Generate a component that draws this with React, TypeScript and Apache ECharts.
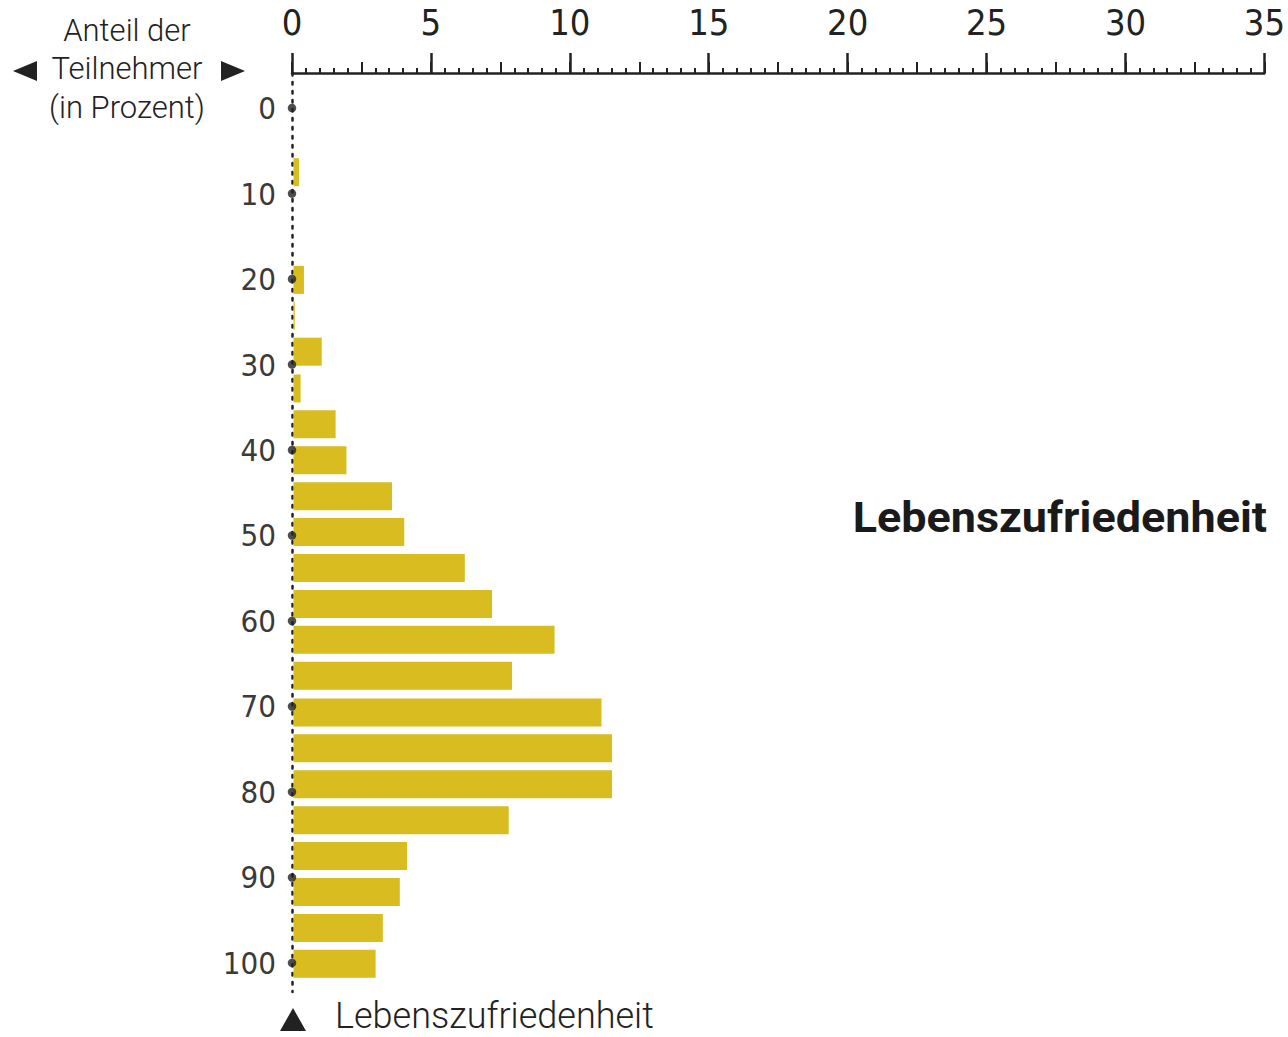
import React, { useEffect, useRef } from "react";
import * as echarts from "echarts";

// Lebenszufriedenheit (position on 0–100 scale) of each bar
const satisfaction = [7.5, 11.7, 15.9, 20.1, 24.3, 28.5, 32.8, 37.0, 41.2, 45.4, 49.6, 53.8, 58.0, 62.2, 66.4, 70.7, 74.9, 79.1, 83.3, 87.5, 91.7, 95.9, 100.1];
// Anteil der Teilnehmer (in Prozent)
const share = [0.25, 0, 0.05, 0.43, 0.1, 1.07, 0.31, 1.57, 1.96, 3.6, 4.04, 6.22, 7.2, 9.45, 7.92, 11.14, 11.52, 11.52, 7.8, 4.14, 3.88, 3.27, 3.01];

const xTickLabels = [0, 5, 10, 15, 20, 25, 30, 35];
const yTickLabels = [0, 10, 20, 30, 40, 50, 60, 70, 80, 90, 100];

const headerLines = ["Anteil der", "Teilnehmer", "(in Prozent)"];
const axisTitle = "Lebenszufriedenheit";

const INK = "#222222";
const BAR = "#d9bc1f";
const NUM_FONT = "'Liberation Sans Narrow', 'DejaVu Sans Condensed', 'DejaVu Sans', sans-serif";
const TEXT_FONT = "Roboto, 'Noto Sans', sans-serif";

export default function App() {
  const ref = useRef<HTMLDivElement>(null);

  useEffect(() => {
    if (!ref.current) return;
    const chart = echarts.init(ref.current, undefined, { renderer: "svg" });

    const barData = share.map((v, i) => [v, satisfaction[i]]);
    const dotData = yTickLabels.map((v) => [0, v]);

    const gridTop = 73;
    const gridBottom = 45;
    const gridBottomY = 1037 - gridBottom;

    const option: any = {
      animation: false,
      backgroundColor: "#ffffff",
      grid: { left: 292, right: 18, top: gridTop, bottom: gridBottom, containLabel: false },
      xAxis: [
        {
          type: "value",
          position: "top",
          min: 0,
          max: 35,
          interval: 5,
          axisLine: { show: true, onZero: false, lineStyle: { color: INK, width: 2.5 } },
          axisTick: { show: true, length: 20, lineStyle: { color: INK, width: 2.5 } },
          minorTick: { show: true, splitNumber: 10, length: 5, lineStyle: { color: INK, width: 2 } },
          splitLine: { show: false },
          minorSplitLine: { show: false },
          axisLabel: {
            show: true,
            customValues: xTickLabels,
            margin: 33,
            color: INK,
            fontFamily: NUM_FONT,
            fontSize: 36,
          },
        },
        {
          type: "value",
          position: "bottom",
          offset: gridTop - gridBottomY,
          min: 0,
          max: 35,
          interval: 2.5,
          axisLine: { show: false, onZero: false },
          axisTick: { show: true, inside: true, length: 11, lineStyle: { color: INK, width: 2 } },
          splitLine: { show: false },
          axisLabel: { show: false },
        },
      ],
      yAxis: {
        type: "value",
        inverse: true,
        min: -4.1,
        max: 103.4,
        axisLine: { show: true, onZero: false, lineStyle: { color: INK, width: 2.5, type: [2.5, 6.5] } },
        axisTick: { show: false },
        splitLine: { show: false },
        axisLabel: {
          show: true,
          customValues: yTickLabels,
          margin: 16,
          color: "#3a3a3a",
          fontFamily: NUM_FONT,
          fontSize: 31,
        },
      },
      series: [
        {
          type: "custom",
          xAxisIndex: 0,
          yAxisIndex: 0,
          data: barData,
          encode: { x: 0, y: 1 },
          clip: false,
          renderItem: (params: any, api: any) => {
            const v = api.value(0);
            const s = api.value(1);
            const p0 = api.coord([0, s]);
            const p1 = api.coord([v, s]);
            const h = 28;
            return {
              type: "rect",
              shape: { x: p0[0] + 1.5, y: p0[1] - h / 2, width: Math.max(0, p1[0] - p0[0] - 1.5), height: h },
              style: { fill: BAR },
            };
          },
        },
        {
          type: "scatter",
          xAxisIndex: 0,
          yAxisIndex: 0,
          data: dotData,
          symbol: "circle",
          symbolSize: 8.5,
          clip: false,
          itemStyle: { color: INK },
          silent: true,
        },
      ],
      graphic: [
        ...headerLines.map((t, i) => ({
          type: "text",
          x: 127,
          y: 30 + i * 38.5,
          scaleX: 1.0,
          style: {
            text: t,
            x: 0,
            y: 0,
            textAlign: "center",
            textVerticalAlign: "middle",
            fill: INK,
            font: `300 31px ${TEXT_FONT}`,
          },
        })),
        {
          type: "polygon",
          shape: { points: [[13, 71], [37, 61], [37, 81]] },
          style: { fill: INK },
        },
        {
          type: "polygon",
          shape: { points: [[221, 61], [245, 71], [221, 81]] },
          style: { fill: INK },
        },
        {
          type: "polygon",
          shape: { points: [[280, 1031], [293, 1008], [306, 1031]] },
          style: { fill: INK },
        },
        {
          type: "text",
          x: 335,
          y: 1016,
          scaleX: 1.0,
          style: {
            text: axisTitle,
            x: 0,
            y: 0,
            textAlign: "left",
            textVerticalAlign: "middle",
            fill: INK,
            font: `300 36px ${TEXT_FONT}`,
            lineHeight: 30,
          },
        },
        {
          type: "text",
          x: 1267,
          y: 518,
          scaleX: 1.07,
          style: {
            text: axisTitle,
            x: 0,
            y: 0,
            textAlign: "right",
            textVerticalAlign: "middle",
            fill: "#1a1a1a",
            font: `bold 42px ${TEXT_FONT}`,
          },
        },
      ],
    };

    chart.setOption(option);
    return () => chart.dispose();
  }, []);

  return <div ref={ref} style={{ width: 1288, height: 1037, position: "absolute", left: 0, top: 0 }} />;
}
